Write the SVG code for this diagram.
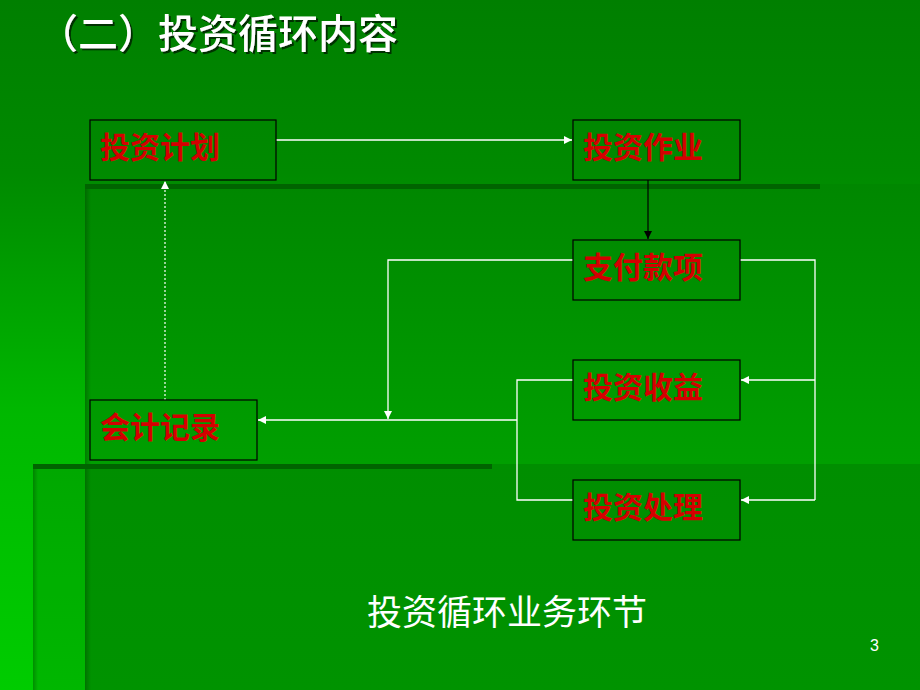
<svg xmlns="http://www.w3.org/2000/svg" width="920" height="690" viewBox="0 0 920 690">
<defs>
<linearGradient id="bg" x1="0" y1="0" x2="0" y2="1">
<stop offset="0" stop-color="#007f00"/>
<stop offset="0.25" stop-color="#008a00"/>
<stop offset="0.6" stop-color="#00b800"/>
<stop offset="1" stop-color="#00cc00"/>
</linearGradient>
<linearGradient id="mid" x1="0" y1="0" x2="0" y2="1">
<stop offset="0" stop-color="#008700"/>
<stop offset="0.55" stop-color="#009f00"/>
<stop offset="1" stop-color="#00a400"/>
</linearGradient>
<linearGradient id="edge" x1="0" y1="0" x2="1" y2="0">
<stop offset="0" stop-color="#000" stop-opacity="0.22"/>
<stop offset="1" stop-color="#000" stop-opacity="0"/>
</linearGradient>
<filter id="shadow" x="-5%" y="-20%" width="115%" height="150%">
<feDropShadow dx="2" dy="2" stdDeviation="0.6" flood-color="#002800" flood-opacity="0.9"/>
</filter>
<marker id="aw" viewBox="0 0 10 10" refX="10" refY="5" markerWidth="8" markerHeight="8" markerUnits="userSpaceOnUse" orient="auto">
<path d="M0,0 L10,5 L0,10 z" fill="#fff"/>
</marker>
<marker id="ab" viewBox="0 0 10 10" refX="10" refY="5" markerWidth="8" markerHeight="8" markerUnits="userSpaceOnUse" orient="auto">
<path d="M0,0 L10,5 L0,10 z" fill="#000"/>
</marker>
</defs>
<style>
.box{fill:none;stroke:#000;stroke-width:1.2}
.lbl{font-family:"Noto Sans CJK SC","Noto Sans CJK TC",sans-serif;font-size:30px;font-weight:bold;fill:#d40000}
.w{fill:none;stroke:#fff;stroke-width:1.3}
.title{font-family:"Noto Sans CJK SC",sans-serif;font-size:40px;font-weight:500;fill:#fff}
</style>
<!-- background -->
<rect x="0" y="0" width="920" height="690" fill="url(#bg)"/>
<rect x="85" y="184" width="835" height="506" fill="url(#mid)"/>
<rect x="85" y="184" width="6" height="506" fill="url(#edge)"/>
<rect x="85" y="184" width="735" height="5" fill="#006400"/>
<rect x="33" y="464" width="887" height="226" fill="#000" fill-opacity="0.1"/>
<rect x="33" y="464" width="5" height="226" fill="url(#edge)"/>
<rect x="33" y="464" width="459" height="5" fill="#006400"/>
<!-- title -->
<text class="title" x="38" y="48" filter="url(#shadow)">（二）投资循环内容</text>
<!-- connectors -->
<g id="connectors">
<line class="w" x1="276" y1="140" x2="572" y2="140" marker-end="url(#aw)"/>
<line x1="648" y1="180" x2="648" y2="239" stroke="#000" stroke-width="1.2" marker-end="url(#ab)"/>
<polyline class="w" points="740,260 815,260 815,500"/>
<line class="w" x1="815" y1="380" x2="741" y2="380" marker-end="url(#aw)"/>
<line class="w" x1="815" y1="500" x2="741" y2="500" marker-end="url(#aw)"/>
<polyline class="w" points="573,260 388,260 388,419" marker-end="url(#aw)"/>
<polyline class="w" points="573,380 517,380 517,500 573,500"/>
<line class="w" x1="517" y1="420" x2="258" y2="420" marker-end="url(#aw)"/>
<line x1="165" y1="400" x2="165" y2="181" stroke="#fff" stroke-width="1.2" stroke-dasharray="2,2" marker-end="url(#aw)"/>
</g>
<!-- nodes -->
<g id="n-plan"><rect class="box" x="90" y="120" width="186" height="60"/><text class="lbl" x="100" y="158">投资计划</text></g>
<g id="n-work"><rect class="box" x="573" y="120" width="167" height="60"/><text class="lbl" x="583" y="158">投资作业</text></g>
<g id="n-pay"><rect class="box" x="573" y="240" width="167" height="60"/><text class="lbl" x="583" y="278">支付款项</text></g>
<g id="n-income"><rect class="box" x="573" y="360" width="167" height="60"/><text class="lbl" x="583" y="398">投资收益</text></g>
<g id="n-record"><rect class="box" x="90" y="400" width="167" height="60"/><text class="lbl" x="100" y="438">会计记录</text></g>
<g id="n-dispose"><rect class="box" x="573" y="480" width="167" height="60"/><text class="lbl" x="583" y="518">投资处理</text></g>
<!-- caption -->
<text x="367" y="625" font-family="Noto Sans CJK SC,sans-serif" font-size="35" fill="#ffffff">投资循环业务环节</text>
<text x="870" y="651" font-family="Liberation Sans,Arial,sans-serif" font-size="16" fill="#ffffff">3</text>
</svg>
